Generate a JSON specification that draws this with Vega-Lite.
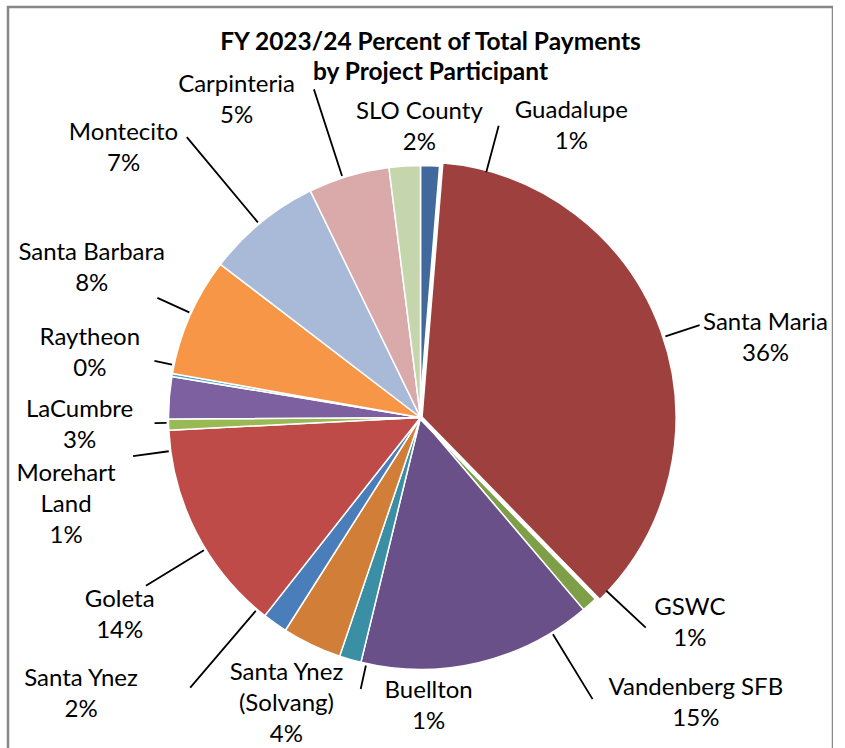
{
  "$schema": "https://vega.github.io/schema/vega-lite/v6.json",
  "autosize": "none",
  "width": 825,
  "height": 821,
  "padding": {"left": 8, "top": 7, "right": 0, "bottom": 0},
  "background": "white",
  "view": {"stroke": "#878787", "strokeWidth": 2.5},
  "title": {
    "text": ["FY 2023/24 Percent of Total Payments", "by Project Participant"],
    "font": "Lato", "fontSize": 24.5, "fontWeight": "bold", "color": "black",
    "anchor": "middle", "frame": "group", "baseline": "top", "offset": -133, "lineHeight": 30, "dx": 10
  },
  "data": {"values": [
    {"idx": 1, "name": "Guadalupe", "value": 1.3, "label": "Guadalupe\n1%"},
    {"idx": 2, "name": "Santa Maria", "value": 36.4, "label": "Santa Maria\n36%"},
    {"idx": 3, "name": "GSWC", "value": 1.1, "label": "GSWC\n1%"},
    {"idx": 4, "name": "Vandenberg SFB", "value": 15.0, "label": "Vandenberg SFB\n15%"},
    {"idx": 5, "name": "Buellton", "value": 1.4, "label": "Buellton\n1%"},
    {"idx": 6, "name": "Santa Ynez (Solvang)", "value": 3.8, "label": "Santa Ynez\n(Solvang)\n4%"},
    {"idx": 7, "name": "Santa Ynez", "value": 1.6, "label": "Santa Ynez\n2%"},
    {"idx": 8, "name": "Goleta", "value": 13.6, "label": "Goleta\n14%"},
    {"idx": 9, "name": "Morehart Land", "value": 0.7, "label": "Morehart\nLand\n1%"},
    {"idx": 10, "name": "LaCumbre", "value": 2.7, "label": "LaCumbre\n3%"},
    {"idx": 11, "name": "Raytheon", "value": 0.2, "label": "Raytheon\n0%"},
    {"idx": 12, "name": "Santa Barbara", "value": 7.6, "label": "Santa Barbara\n8%"},
    {"idx": 13, "name": "Montecito", "value": 7.4, "label": "Montecito\n7%"},
    {"idx": 14, "name": "Carpinteria", "value": 5.2, "label": "Carpinteria\n5%"},
    {"idx": 15, "name": "SLO County", "value": 2.0, "label": "SLO County\n2%"}
  ]},
  "encoding": {
    "theta": {"field": "value", "type": "quantitative", "stack": true},
    "order": {"field": "idx", "type": "quantitative"},
    "detail": {"field": "name", "type": "nominal"}
  },
  "layer": [
    {
      "mark": {"type": "arc", "radius": 252, "stroke": "white", "strokeWidth": 1.5},
      "encoding": {
        "color": {"field": "name", "type": "nominal", "legend": null,
          "scale": {
            "domain": ["Guadalupe", "Santa Maria", "GSWC", "Vandenberg SFB", "Buellton", "Santa Ynez (Solvang)", "Santa Ynez", "Goleta", "Morehart Land", "LaCumbre", "Raytheon", "Santa Barbara", "Montecito", "Carpinteria", "SLO County"],
            "range": ["#41699B", "#9E413E", "#7F9E48", "#6A5088", "#3A8FA5", "#D07E38", "#4A7EBB", "#BE4B48", "#98B954", "#7D60A0", "#4AACC5", "#F79646", "#A9B9D8", "#D9AAA9", "#C6D6AC"]
          }}
      }
    },
    {
      "mark": {"type": "arc", "radius": 257, "stroke": "white", "strokeWidth": 4.5},
      "encoding": {
        "color": {"field": "name", "type": "nominal", "legend": null},
        "opacity": {"condition": {"test": "datum.name === 'Santa Maria'", "value": 1}, "value": 0}
      }
    },
    {"mark": {"type": "arc", "radius": 302, "radius2": 254, "padAngle": 3.1416, "thetaOffset": 0.221, "theta2Offset": 0.221, "fill": "transparent", "stroke": "black", "strokeWidth": 1.8},
     "encoding": {"strokeOpacity": {"condition": {"test": "datum.name === 'Guadalupe'", "value": 1}, "value": 0}}},
    {"mark": {"type": "arc", "radius": 294, "radius2": 258, "padAngle": 3.1416, "thetaOffset": 0.026, "theta2Offset": 0.026, "fill": "transparent", "stroke": "black", "strokeWidth": 1.8},
     "encoding": {"strokeOpacity": {"condition": {"test": "datum.name === 'Santa Maria'", "value": 1}, "value": 0}}},
    {"mark": {"type": "arc", "radius": 308, "radius2": 254, "padAngle": 3.1416, "thetaOffset": -0.082, "theta2Offset": -0.082, "fill": "transparent", "stroke": "black", "strokeWidth": 1.8},
     "encoding": {"strokeOpacity": {"condition": {"test": "datum.name === 'GSWC'", "value": 1}, "value": 0}}},
    {"mark": {"type": "arc", "radius": 330, "radius2": 254, "padAngle": 3.1416, "thetaOffset": -0.316, "theta2Offset": -0.316, "fill": "transparent", "stroke": "black", "strokeWidth": 1.8},
     "encoding": {"strokeOpacity": {"condition": {"test": "datum.name === 'Vandenberg SFB'", "value": 1}, "value": 0}}},
    {"mark": {"type": "arc", "radius": 278, "radius2": 254, "padAngle": 3.1416, "thetaOffset": -0.066, "theta2Offset": -0.066, "fill": "transparent", "stroke": "black", "strokeWidth": 1.8},
     "encoding": {"strokeOpacity": {"condition": {"test": "datum.name === 'Buellton'", "value": 1}, "value": 0}}},
    {"mark": {"type": "arc", "radius": 355, "radius2": 254, "padAngle": 3.1416, "thetaOffset": 0.09, "theta2Offset": 0.09, "fill": "transparent", "stroke": "black", "strokeWidth": 1.8},
     "encoding": {"strokeOpacity": {"condition": {"test": "datum.name === 'Santa Ynez'", "value": 1}, "value": 0}}},
    {"mark": {"type": "arc", "radius": 322, "radius2": 254, "padAngle": 3.1416, "thetaOffset": -0.072, "theta2Offset": -0.072, "fill": "transparent", "stroke": "black", "strokeWidth": 1.8},
     "encoding": {"strokeOpacity": {"condition": {"test": "datum.name === 'Goleta'", "value": 1}, "value": 0}}},
    {"mark": {"type": "arc", "radius": 290, "radius2": 254, "padAngle": 3.1416, "thetaOffset": -0.105, "theta2Offset": -0.105, "fill": "transparent", "stroke": "black", "strokeWidth": 1.8},
     "encoding": {"strokeOpacity": {"condition": {"test": "datum.name === 'Morehart Land'", "value": 1}, "value": 0}}},
    {"mark": {"type": "arc", "radius": 266, "radius2": 254, "padAngle": 3.1416, "thetaOffset": -0.1, "theta2Offset": -0.1, "fill": "transparent", "stroke": "black", "strokeWidth": 1.8},
     "encoding": {"strokeOpacity": {"condition": {"test": "datum.name === 'LaCumbre'", "value": 1}, "value": 0}}},
    {"mark": {"type": "arc", "radius": 272, "radius2": 254, "padAngle": 3.1416, "thetaOffset": 0.04, "theta2Offset": 0.04, "fill": "transparent", "stroke": "black", "strokeWidth": 1.8},
     "encoding": {"strokeOpacity": {"condition": {"test": "datum.name === 'Raytheon'", "value": 1}, "value": 0}}},
    {"mark": {"type": "arc", "radius": 289, "radius2": 254, "padAngle": 3.1416, "thetaOffset": 0.012, "theta2Offset": 0.012, "fill": "transparent", "stroke": "black", "strokeWidth": 1.8},
     "encoding": {"strokeOpacity": {"condition": {"test": "datum.name === 'Santa Barbara'", "value": 1}, "value": 0}}},
    {"mark": {"type": "arc", "radius": 365, "radius2": 254, "padAngle": 3.1416, "thetaOffset": -0.01, "theta2Offset": -0.01, "fill": "transparent", "stroke": "black", "strokeWidth": 1.8},
     "encoding": {"strokeOpacity": {"condition": {"test": "datum.name === 'Montecito'", "value": 1}, "value": 0}}},
    {"mark": {"type": "arc", "radius": 345, "radius2": 254, "padAngle": 3.1416, "thetaOffset": -0.025, "theta2Offset": -0.025, "fill": "transparent", "stroke": "black", "strokeWidth": 1.8},
     "encoding": {"strokeOpacity": {"condition": {"test": "datum.name === 'Carpinteria'", "value": 1}, "value": 0}}},

    {"mark": {"type": "text", "radius": 328, "thetaOffset": 0.437, "dy": -15, "font": "Lato", "fontSize": 24, "lineBreak": "\n", "lineHeight": 31, "align": "center", "baseline": "middle", "color": "black"},
     "encoding": {"text": {"condition": {"test": "datum.name === 'Guadalupe'", "field": "label"}, "value": ""}}},
    {"mark": {"type": "text", "radius": 354, "thetaOffset": 0.12, "dy": -15, "font": "Lato", "fontSize": 24, "lineBreak": "\n", "lineHeight": 31, "align": "center", "baseline": "middle", "color": "black"},
     "encoding": {"text": {"condition": {"test": "datum.name === 'Santa Maria'", "field": "label"}, "value": ""}}},
    {"mark": {"type": "text", "radius": 339, "thetaOffset": -0.18, "dy": -15, "font": "Lato", "fontSize": 24, "lineBreak": "\n", "lineHeight": 31, "align": "center", "baseline": "middle", "color": "black"},
     "encoding": {"text": {"condition": {"test": "datum.name === 'GSWC'", "field": "label"}, "value": ""}}},
    {"mark": {"type": "text", "radius": 397, "thetaOffset": -0.534, "dy": -15, "font": "Lato", "fontSize": 24, "lineBreak": "\n", "lineHeight": 31, "align": "center", "baseline": "middle", "color": "black"},
     "encoding": {"text": {"condition": {"test": "datum.name === 'Vandenberg SFB'", "field": "label"}, "value": ""}}},
    {"mark": {"type": "text", "radius": 289, "thetaOffset": -0.311, "dy": -15, "font": "Lato", "fontSize": 24, "lineBreak": "\n", "lineHeight": 31, "align": "center", "baseline": "middle", "color": "black"},
     "encoding": {"text": {"condition": {"test": "datum.name === 'Buellton'", "field": "label"}, "value": ""}}},
    {"mark": {"type": "text", "radius": 316, "thetaOffset": -0.008, "dy": -31, "font": "Lato", "fontSize": 24, "lineBreak": "\n", "lineHeight": 31, "align": "center", "baseline": "middle", "color": "black"},
     "encoding": {"text": {"condition": {"test": "datum.name === 'Santa Ynez (Solvang)'", "field": "label"}, "value": ""}}},
    {"mark": {"type": "text", "radius": 438, "thetaOffset": 0.271, "dy": -15, "font": "Lato", "fontSize": 24, "lineBreak": "\n", "lineHeight": 31, "align": "center", "baseline": "middle", "color": "black"},
     "encoding": {"text": {"condition": {"test": "datum.name === 'Santa Ynez'", "field": "label"}, "value": ""}}},
    {"mark": {"type": "text", "radius": 360, "thetaOffset": -0.104, "dy": -15, "font": "Lato", "fontSize": 24, "lineBreak": "\n", "lineHeight": 31, "align": "center", "baseline": "middle", "color": "black"},
     "encoding": {"text": {"condition": {"test": "datum.name === 'Goleta'", "field": "label"}, "value": ""}}},
    {"mark": {"type": "text", "radius": 365, "thetaOffset": -0.213, "dy": -31, "font": "Lato", "fontSize": 24, "lineBreak": "\n", "lineHeight": 31, "align": "center", "baseline": "middle", "color": "black"},
     "encoding": {"text": {"condition": {"test": "datum.name === 'Morehart Land'", "field": "label"}, "value": ""}}},
    {"mark": {"type": "text", "radius": 341, "thetaOffset": -0.101, "dy": -15, "font": "Lato", "fontSize": 24, "lineBreak": "\n", "lineHeight": 31, "align": "center", "baseline": "middle", "color": "black"},
     "encoding": {"text": {"condition": {"test": "datum.name === 'LaCumbre'", "field": "label"}, "value": ""}}},
    {"mark": {"type": "text", "radius": 337, "thetaOffset": 0.024, "dy": -15, "font": "Lato", "fontSize": 24, "lineBreak": "\n", "lineHeight": 31, "align": "center", "baseline": "middle", "color": "black"},
     "encoding": {"text": {"condition": {"test": "datum.name === 'Raytheon'", "field": "label"}, "value": ""}}},
    {"mark": {"type": "text", "radius": 361, "thetaOffset": 0.011, "dy": -15, "font": "Lato", "fontSize": 24, "lineBreak": "\n", "lineHeight": 31, "align": "center", "baseline": "middle", "color": "black"},
     "encoding": {"text": {"condition": {"test": "datum.name === 'Santa Barbara'", "field": "label"}, "value": ""}}},
    {"mark": {"type": "text", "radius": 401, "thetaOffset": -0.149, "dy": -15, "font": "Lato", "fontSize": 24, "lineBreak": "\n", "lineHeight": 31, "align": "center", "baseline": "middle", "color": "black"},
     "encoding": {"text": {"condition": {"test": "datum.name === 'Montecito'", "field": "label"}, "value": ""}}},
    {"mark": {"type": "text", "radius": 367, "thetaOffset": -0.236, "dy": -15, "font": "Lato", "fontSize": 24, "lineBreak": "\n", "lineHeight": 31, "align": "center", "baseline": "middle", "color": "black"},
     "encoding": {"text": {"condition": {"test": "datum.name === 'Carpinteria'", "field": "label"}, "value": ""}}},
    {"mark": {"type": "text", "radius": 291, "thetaOffset": 0.059, "dy": -15, "font": "Lato", "fontSize": 24, "lineBreak": "\n", "lineHeight": 31, "align": "center", "baseline": "middle", "color": "black"},
     "encoding": {"text": {"condition": {"test": "datum.name === 'SLO County'", "field": "label"}, "value": ""}}}
  ]
}
